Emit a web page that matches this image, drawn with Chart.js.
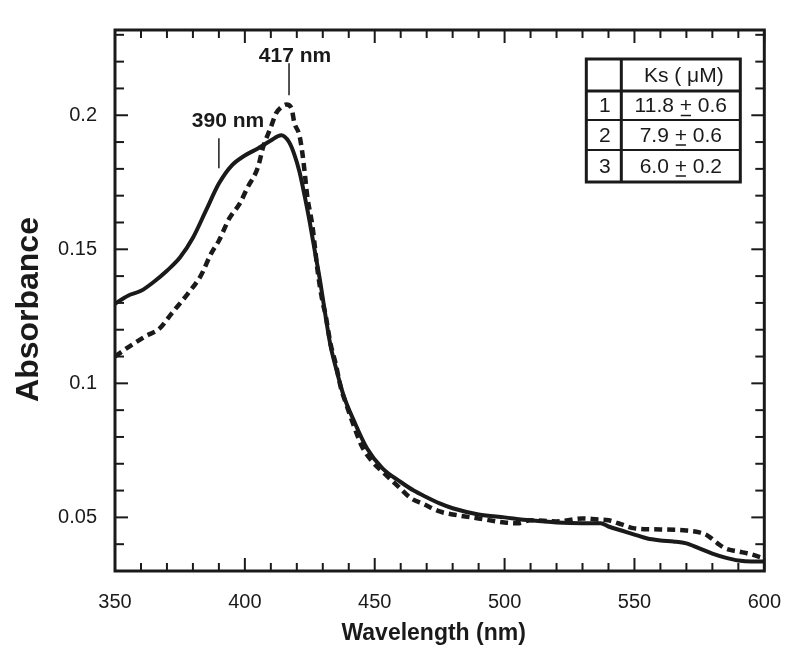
<!DOCTYPE html>
<html>
<head>
<meta charset="utf-8">
<script src="https://cdn.jsdelivr.net/npm/chart.js@4"></script>
<style>
    body { margin: 0; background: #fff; }
</style>
</head>
<body>
<canvas id="spectrum" width="800" height="670"></canvas>
<script>
// solid trace
var solidNm = [350, 355, 360, 365, 370, 375, 380, 385, 390, 395, 400, 405, 410, 414, 417, 419, 421, 423, 425, 427,
    429, 431, 433, 435, 438, 442, 447, 453, 460, 465, 470, 475, 480, 490, 500, 510, 520, 530, 537, 540,
    545, 550, 555, 560, 565, 570, 575, 580, 585, 590, 595, 600];
var solidAbs = [0.1297, 0.1327, 0.1345, 0.1379, 0.1420, 0.1469, 0.1543, 0.1644, 0.1745, 0.1813, 0.1850, 0.1876, 0.1906, 0.1925, 0.1900, 0.1855, 0.1790, 0.1700, 0.1600, 0.1490,
    0.1380, 0.1255, 0.1140, 0.1060, 0.0955, 0.0860, 0.0758, 0.0683, 0.0632, 0.0600, 0.0575, 0.0552, 0.0534, 0.0511, 0.0500, 0.0489, 0.0481, 0.0478, 0.0478, 0.0466,
    0.0451, 0.0436, 0.0421, 0.0414, 0.0410, 0.0403, 0.0384, 0.0365, 0.0350, 0.0339, 0.0335, 0.0335];

// dashed trace
var dashedNm = [350, 353, 357, 362, 367, 372, 378, 383, 387, 390, 394, 398, 401, 405, 407, 410, 412, 414, 416, 418,
    419, 421, 422, 423, 424, 426, 427, 428, 430, 431, 433, 435, 437, 439, 441, 443, 445, 449, 454, 459,
    464, 469, 475, 480, 490, 500, 505, 510, 520, 530, 535, 540, 545, 550, 560, 570, 575, 578, 582, 585,
    590, 595, 600];
var dashedAbs = [0.1100, 0.1121, 0.1147, 0.1177, 0.1203, 0.1263, 0.1334, 0.1401, 0.1484, 0.1532, 0.1615, 0.1670, 0.1730, 0.1805, 0.1880, 0.1955, 0.2007, 0.2030, 0.2040, 0.2025,
    0.1974, 0.1925, 0.1869, 0.1790, 0.1700, 0.1588, 0.1506, 0.1420, 0.1300, 0.1259, 0.1147, 0.1072, 0.0982, 0.0923, 0.0867, 0.0814, 0.0766, 0.0709, 0.0661, 0.0616,
    0.0571, 0.0549, 0.0522, 0.0511, 0.0496, 0.0481, 0.0478, 0.0489, 0.0485, 0.0496, 0.0493, 0.0489, 0.0474, 0.0459, 0.0455, 0.0451, 0.0444, 0.0433, 0.0403, 0.0384,
    0.0373, 0.0362, 0.0347];

var xMajorTicks = [350, 400, 450, 500, 550, 600];
var xMinorTicks = [360, 370, 380, 390, 410, 420, 430, 440, 460, 470, 480, 490, 510, 520, 530, 540, 560, 570, 580, 590];
var yMajorTicks = [0.05, 0.1, 0.15, 0.2];
var yMinorTicks = [0.04, 0.06, 0.07, 0.08, 0.09, 0.11, 0.12, 0.13, 0.14, 0.16, 0.17, 0.18, 0.19, 0.21, 0.22, 0.23];

var peakLabels = ['390 nm', '417 nm'];
var peakNm = [390, 417];

var tableHeader = 'Ks ( \u03BCM)';
var tableRows = ['1', '2', '3'];
var ksValues = ['11.8', '7.9', '6.0'];
var ksErrors = ['0.6', '0.6', '0.2'];

var INK = '#1a1a1a';
var FONT = "'Liberation Sans', Arial, sans-serif";

function toPoints(xs, ys) {
    return xs.map(function (x, i) { return { x: x, y: ys[i] }; });
}

var framePlugin = {
    id: 'frame',
    afterDraw: function (chart) {
        var ctx = chart.ctx;
        var a = chart.chartArea;
        var xs = chart.scales.x;
        var ys = chart.scales.y;

        function seg(x1, y1, x2, y2) {
            ctx.beginPath();
            ctx.moveTo(x1, y1);
            ctx.lineTo(x2, y2);
            ctx.stroke();
        }

        ctx.save();
        ctx.strokeStyle = INK;
        ctx.fillStyle = INK;
        ctx.lineWidth = 2;

        // inward ticks on all four sides
        function xTick(v, len) {
            var px = xs.getPixelForValue(v);
            seg(px, a.bottom, px, a.bottom - len);
            seg(px, a.top, px, a.top + len);
        }
        function yTick(v, len) {
            var py = ys.getPixelForValue(v);
            seg(a.left, py, a.left + len, py);
            seg(a.right, py, a.right - len, py);
        }
        xMajorTicks.forEach(function (v) { xTick(v, 13); });
        xMinorTicks.forEach(function (v) { xTick(v, 8); });
        yMajorTicks.forEach(function (v) { yTick(v, 13); });
        yMinorTicks.forEach(function (v) { yTick(v, 9); });

        ctx.lineWidth = 3;
        ctx.strokeRect(a.left, a.top, a.right - a.left, a.bottom - a.top);

        // peak markers
        ctx.lineWidth = 1.5;
        ctx.font = 'bold 21px ' + FONT;
        ctx.textAlign = 'center';
        ctx.textBaseline = 'alphabetic';
        var px0 = xs.getPixelForValue(peakNm[0]);
        seg(px0, ys.getPixelForValue(0.1914), px0, ys.getPixelForValue(0.1802));
        ctx.fillText(peakLabels[0], xs.getPixelForValue(393.5), ys.getPixelForValue(0.1955));
        var px1 = xs.getPixelForValue(peakNm[1]);
        seg(px1, ys.getPixelForValue(0.2194), px1, ys.getPixelForValue(0.2075));
        ctx.fillText(peakLabels[1], xs.getPixelForValue(419.3), ys.getPixelForValue(0.2200));

        // Ks table
        var tL = a.right - 178, tR = a.right - 24, tT = a.top + 29;
        var colX = tL + 35;
        var rowY = [tT, tT + 32, tT + 61, tT + 91, tT + 123];
        ctx.lineWidth = 2;
        for (var r = 2; r < rowY.length - 1; r++) seg(tL, rowY[r], tR, rowY[r]);
        ctx.lineWidth = 3;
        seg(tL, rowY[1], tR, rowY[1]);
        seg(colX, tT, colX, rowY[4]);
        ctx.strokeRect(tL, tT, tR - tL, rowY[4] - tT);

        ctx.font = '21px ' + FONT;
        ctx.textBaseline = 'middle';
        ctx.textAlign = 'center';
        var c2 = (colX + tR) / 2;
        ctx.fillText(tableHeader, c2 + 3, (rowY[0] + rowY[1]) / 2 + 1);
        ctx.lineWidth = 1.5;
        for (var i = 0; i < tableRows.length; i++) {
            var cy = (rowY[i + 1] + rowY[i + 2]) / 2 + 1;
            ctx.textAlign = 'center';
            ctx.fillText(tableRows[i], (tL + colX) / 2 + 1, cy);
            var p1 = ksValues[i] + ' ', p2 = '+', p3 = ' ' + ksErrors[i];
            var w1 = ctx.measureText(p1).width, w2 = ctx.measureText(p2).width, w3 = ctx.measureText(p3).width;
            var sx = c2 - (w1 + w2 + w3) / 2;
            ctx.textAlign = 'left';
            ctx.fillText(p1, sx, cy);
            ctx.fillText(p2, sx + w1, cy);
            ctx.fillText(p3, sx + w1 + w2, cy);
            seg(sx + w1 + 1, cy + 9, sx + w1 + w2 - 1, cy + 9);
        }

        // axis titles
        ctx.textAlign = 'center';
        ctx.textBaseline = 'middle';
        ctx.font = 'bold 23px ' + FONT;
        ctx.fillText('Wavelength (nm)', (a.left + a.right) / 2 - 6, 634);
        ctx.save();
        ctx.translate(29, (a.top + a.bottom) / 2 + 9);
        ctx.rotate(-Math.PI / 2);
        ctx.font = 'bold 32px ' + FONT;
        ctx.fillText('Absorbance', 0, 0);
        ctx.restore();

        ctx.restore();
    }
};

var config = {
    type: 'scatter',
    data: {
        datasets: [{
            label: 'solid',
            data: toPoints(solidNm, solidAbs),
            showLine: true,
            borderColor: INK,
            borderWidth: 4,
            pointRadius: 0,
            cubicInterpolationMode: 'monotone'
        }, {
            label: 'dashed',
            data: toPoints(dashedNm, dashedAbs),
            showLine: true,
            borderColor: INK,
            borderWidth: 4.5,
            borderDash: [8, 5],
            pointRadius: 0,
            cubicInterpolationMode: 'monotone'
        }]
    },
    options: {
        responsive: false,
        animation: false,
        layout: {
            padding: { top: 29, right: 34, left: 0, bottom: 0 }
        },
        plugins: {
            legend: { display: false },
            tooltip: { enabled: false }
        },
        scales: {
            x: {
                type: 'linear',
                min: 350,
                max: 600,
                grid: { display: false, drawTicks: false },
                border: { display: false },
                afterBuildTicks: function (scale) {
                    scale.ticks = xMajorTicks.map(function (v) { return { value: v }; });
                },
                afterFit: function (scale) { scale.height = 99; },
                ticks: {
                    padding: 19,
                    maxRotation: 0,
                    color: INK,
                    font: { family: FONT, size: 20 }
                }
            },
            y: {
                type: 'linear',
                min: 0.03,
                max: 0.2318,
                grid: { display: false, drawTicks: false },
                border: { display: false },
                afterBuildTicks: function (scale) {
                    scale.ticks = yMajorTicks.map(function (v) { return { value: v }; });
                },
                afterFit: function (scale) { scale.width = 115; },
                ticks: {
                    padding: 18,
                    color: INK,
                    font: { family: FONT, size: 20 },
                    callback: function (v) { return String(+v.toFixed(2)); }
                }
            }
        }
    },
    plugins: [framePlugin]
};

new Chart(document.getElementById('spectrum'), config);
</script>
</body>
</html>
